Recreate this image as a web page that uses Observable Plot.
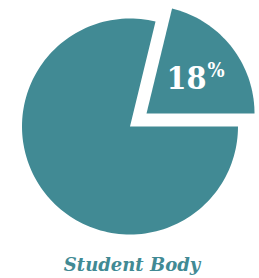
<!DOCTYPE html>
<html><head><meta charset="utf-8">
<script src="https://cdn.jsdelivr.net/npm/d3@7"></script>
<script src="https://cdn.jsdelivr.net/npm/@observablehq/plot@0.6"></script>
<style>body{margin:0;background:#fff}</style>
</head><body><div id="chart"></div>
<script>
const categories = ["Other", "Student Body"];
const shares = [78.8, 21.2];
const exploded = [false, true];
const labelNumber = ["18"];
const labelUnit = ["%"];
const caption = ["Student Body"];
const color = "#418a94";

const R = 108, explode = 21, steps = 180;
const total = d3.sum(shares);
let a = Math.PI / 2;
const pts = [];
let labelPos = null;
shares.forEach((v, i) => {
  const a0 = a, a1 = a + v / total * 2 * Math.PI; a = a1;
  const mid = (a0 + a1) / 2;
  const ox = exploded[i] ? explode * Math.sin(mid) : 0;
  const oy = exploded[i] ? explode * Math.cos(mid) : 0;
  pts.push({k: categories[i], x: ox, y: oy});
  const n = Math.max(2, Math.ceil(steps * v / total));
  for (let j = 0; j <= n; j++) {
    const t = a0 + (a1 - a0) * j / n;
    pts.push({k: categories[i], x: ox + R * Math.sin(t), y: oy + R * Math.cos(t)});
  }
  if (exploded[i]) labelPos = {x: ox + 0.6 * R * Math.sin(mid), y: oy + 0.6 * R * Math.cos(mid)};
});

const chart = Plot.plot({
  width: 259, height: 278,
  margin: 0,
  x: {domain: [-129.5, 129.5], axis: null},
  y: {domain: [-152, 126], axis: null},
  marks: [
    Plot.line(pts, {x: "x", y: "y", z: "k", fill: color, stroke: "none", curve: "linear-closed"}),
    Plot.text(labelNumber, {x: () => labelPos.x, y: () => labelPos.y, text: d => d, textAnchor: "end", lineAnchor: "bottom", dx: 9, dy: 15.3, fill: "white", fontSize: 32, fontWeight: 900, fontFamily: "'DejaVu Serif Condensed', 'DejaVu Serif', serif", fontStretch: "condensed"}),
    Plot.text(labelUnit, {x: () => labelPos.x, y: () => labelPos.y, text: d => d, textAnchor: "start", lineAnchor: "bottom", dx: 10, dy: 4, fill: "white", fontSize: 20, fontWeight: "bold", fontFamily: "'DejaVu Serif Condensed', 'DejaVu Serif', serif"}),
    Plot.text(caption, {x: () => 2, y: () => -144, text: d => d, textAnchor: "middle", lineAnchor: "bottom", fill: color, fontSize: 18, fontWeight: "bold", fontStyle: "italic", fontFamily: "'DejaVu Serif', serif"})
  ]
});
document.getElementById("chart").append(chart);
</script>
</body></html>
